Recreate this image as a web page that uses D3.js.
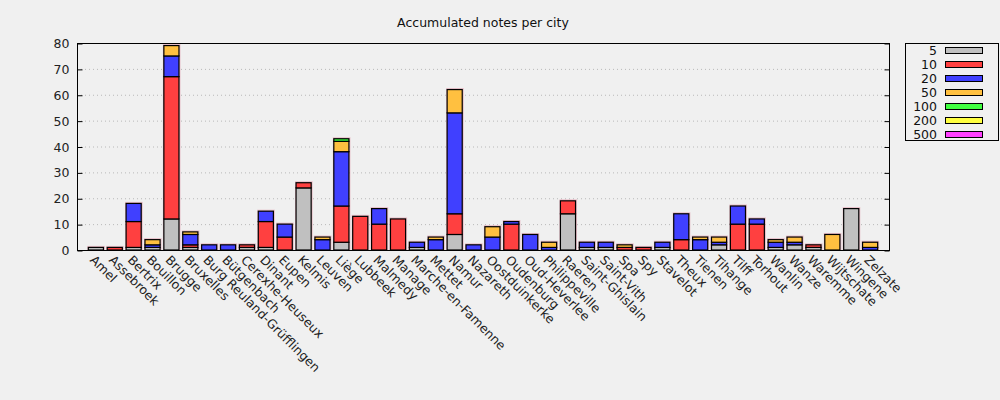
<!DOCTYPE html>
<html>
<head>
<meta charset="utf-8">
<script src="https://cdn.jsdelivr.net/npm/d3@7"></script>
<style>
html,body{margin:0;padding:0;background:#f0f0f0;}
svg{display:block;font-family:"DejaVu Sans",sans-serif;}
</style>
</head>
<body>
<svg id="chart" width="1000" height="400"></svg>
<script>
const cities = ["Amel","Assebroek","Bertrix","Bouillon","Brugge","Bruxelles","Burg Reuland-Grüfflingen","Bütgenbach","Cerexhe-Heuseux","Dinant","Eupen","Kelmis","Leuven","Liège","Lubbeek","Malmedy","Manage","Marche-en-Famenne","Mettet","Namur","Nazareth","Oostduinkerke","Oudenburg","Oud-Heverlee","Philippeville","Raeren","Saint-Ghislain","Saint-Vith","Spa","Spy","Stavelot","Theux","Tienen","Tihange","Tilff","Torhout","Wanlin","Wanze","Waremme","Wijtschate","Wingene","Zelzate"];
const denominations = ["5","10","20","50","100","200","500"];
const n5   = [1,0,1,1,12,1,0,0,1,1,0,24,0,3,0,0,0,1,0,6,0,0,0,0,0,14,1,1,0,0,1,0,0,2,0,0,1,2,1,0,16,0];
const n10  = [0,1,10,0,55,1,0,0,1,10,5,2,0,14,13,10,12,0,0,8,0,0,10,0,0,5,0,0,1,1,0,4,0,0,10,10,0,0,1,0,0,0];
const n20  = [0,0,7,1,8,4,2,2,0,4,5,0,4,21,0,6,0,2,4,39,2,5,1,6,1,0,2,2,0,0,2,10,4,1,7,2,2,1,0,0,0,1];
const n50  = [0,0,0,2,4,1,0,0,0,0,0,0,1,4,0,0,0,0,1,9,0,4,0,0,2,0,0,0,1,0,0,0,1,2,0,0,1,2,0,6,0,2];
const n100 = [0,0,0,0,0,0,0,0,0,0,0,0,0,1,0,0,0,0,0,0,0,0,0,0,0,0,0,0,0,0,0,0,0,0,0,0,0,0,0,0,0,0];
const n200 = [0,0,0,0,0,0,0,0,0,0,0,0,0,0,0,0,0,0,0,0,0,0,0,0,0,0,0,0,0,0,0,0,0,0,0,0,0,0,0,0,0,0];
const n500 = [0,0,0,0,0,0,0,0,0,0,0,0,0,0,0,0,0,0,0,0,0,0,0,0,0,0,0,0,0,0,0,0,0,0,0,0,0,0,0,0,0,0];
const yTicks = [0,10,20,30,40,50,60,70,80];
const colors = ["#c0c0c0","#ff4040","#4040ff","#ffc040","#40ff40","#ffff40","#ff40ff"];

const series = [n5,n10,n20,n50,n100,n200,n500];
const table = cities.map((c,i)=>{
  const o = {city:c};
  denominations.forEach((d,k)=>o[d]=series[k][i]);
  return o;
});
const stacked = d3.stack().keys(denominations)(table);

const svg = d3.select("#chart");
const L=77, R=889, T=43, B=250;
const x = d3.scaleLinear().domain([-1, cities.length]).range([L,R]);
const step = x(1)-x(0);
const bw = step*0.8;
const y = d3.scaleLinear().domain([0,80]).range([B,T]);

// gridlines
svg.append("g").selectAll("line").data(yTicks.filter(v=>v>0&&v<80)).join("line")
  .attr("x1",L).attr("x2",R).attr("y1",d=>y(d)+0.5).attr("y2",d=>y(d)+0.5)
  .attr("stroke","#b8b8b8").attr("stroke-width",1).attr("stroke-dasharray","1,3");

// halo behind bars
svg.append("g").selectAll("rect").data(table).join("rect")
  .attr("x",(d,i)=>x(i)-bw/2-1).attr("width",bw+2.5)
  .attr("y",(d,i)=>y(stacked[stacked.length-1][i][1])-1.5)
  .attr("height",(d,i)=>B-y(stacked[stacked.length-1][i][1])+1.5)
  .attr("fill","rgba(225,140,160,0.5)");

// bars
const g = svg.append("g");
stacked.forEach((s,k)=>{
  g.append("g").selectAll("rect").data(s.filter(d=>d[1]-d[0]>0).map(d=>({d, i:cities.indexOf(d.data.city)})))
    .join("rect")
    .attr("x",o=>x(o.i)-bw/2).attr("width",bw)
    .attr("y",o=>y(o.d[1])).attr("height",o=>y(o.d[0])-y(o.d[1]))
    .attr("fill",colors[k]).attr("stroke","#000").attr("stroke-width",1.2);
});

// frame
svg.append("rect").attr("x",L+0.5).attr("y",T+0.5).attr("width",R-L).attr("height",B-T)
  .attr("fill","none").attr("stroke","#000").attr("stroke-width",1);

// left axis
const yAxis = d3.axisLeft(y).tickValues(yTicks).tickSize(-5).tickPadding(8).tickFormat(d3.format("d"));
const ya = svg.append("g").attr("transform",`translate(${L+0.5},0.5)`).call(yAxis);
ya.select(".domain").remove();
ya.selectAll("text").attr("font-size",12.5).attr("fill","#222").attr("font-family","DejaVu Sans");
// right ticks
const yr = svg.append("g").attr("transform",`translate(${R+0.5},0.5)`).call(d3.axisRight(y).tickValues(yTicks).tickSize(-5).tickFormat(""));
yr.select(".domain").remove();

// x labels
svg.append("g").selectAll("text").data(cities).join("text")
  .attr("transform",(d,i)=>`translate(${x(i)},254) rotate(45)`)
  .attr("dy","0.75em").attr("font-size",12.5).attr("fill","#222")
  .text(d=>d);

// title
svg.append("text").attr("x",(L+R)/2).attr("y",27).attr("text-anchor","middle")
  .attr("font-size",12.5).attr("fill","#111").text("Accumulated notes per city");

// legend
const lg = svg.append("g");
lg.append("rect").attr("x",905.5).attr("y",43.5).attr("width",93).attr("height",97)
  .attr("fill","#f0f0f0").attr("stroke","#000");
denominations.forEach((d,k)=>{
  const cy = 50.5 + k*14;
  lg.append("text").attr("x",937).attr("y",cy).attr("dy","0.35em").attr("text-anchor","end")
    .attr("font-size",12.5).attr("fill","#111").text(d);
  lg.append("rect").attr("x",945.5).attr("y",cy-3).attr("width",37).attr("height",6)
    .attr("fill",colors[k]).attr("stroke","#000").attr("stroke-width",1);
});
</script>
</body>
</html>
